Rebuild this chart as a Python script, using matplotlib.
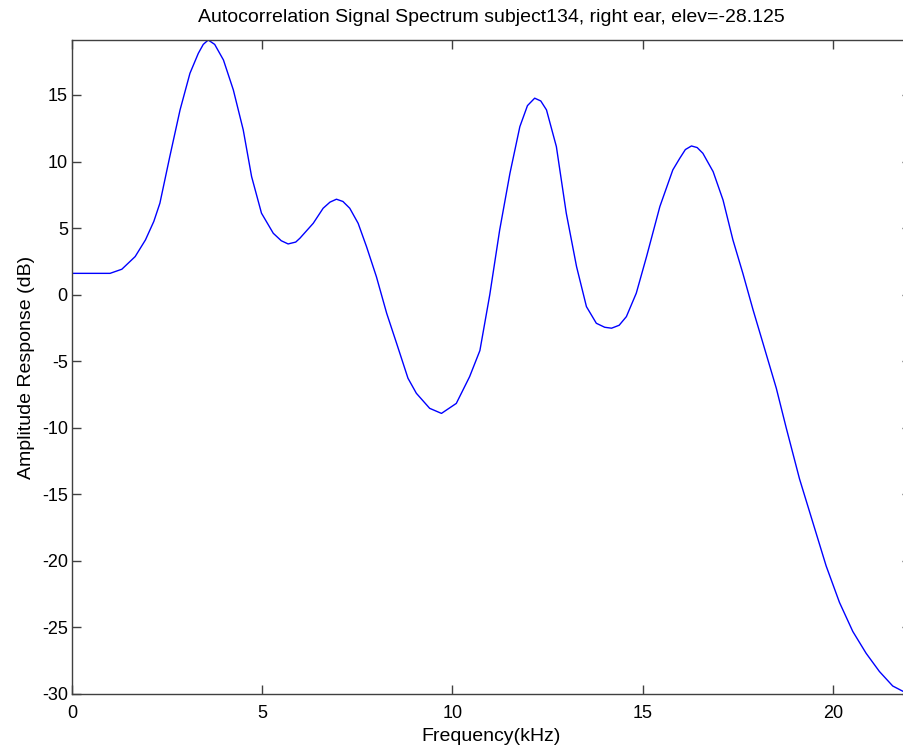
import matplotlib
matplotlib.use("Agg")
import matplotlib.pyplot as plt

plt.rcParams['font.family'] = ['Liberation Sans', 'DejaVu Sans']
plt.rcParams['axes.unicode_minus'] = False

# frequency (kHz) and amplitude (dB)
freq = [0.0, 0.5, 1.0, 1.31, 1.66, 1.93, 2.15, 2.31, 2.57, 2.84, 3.10, 3.32, 3.45, 3.58,
        3.75, 3.98, 4.24, 4.50, 4.72, 4.98, 5.29, 5.50, 5.68, 5.88, 5.99, 6.34, 6.60,
        6.78, 6.95, 7.12, 7.30, 7.52, 7.74, 8.00, 8.27, 8.53, 8.83, 9.05, 9.40, 9.71,
        10.10, 10.45, 10.72, 10.98, 11.24, 11.51, 11.77, 11.97, 12.16, 12.32, 12.47,
        12.73, 12.99, 13.26, 13.52, 13.78, 14.00, 14.18, 14.38, 14.57, 14.83, 15.10,
        15.45, 15.79, 15.97, 16.12, 16.28, 16.43, 16.58, 16.85, 17.11, 17.37, 17.63,
        17.90, 18.16, 18.51, 18.77, 19.12, 19.47, 19.82, 20.17, 20.52, 20.87, 21.22,
        21.57, 21.84, 22.05]
amp = [1.6, 1.6, 1.6, 1.91, 2.86, 4.11, 5.5, 6.87, 10.37, 13.88, 16.63, 18.13, 18.8, 19.13,
       18.8, 17.63, 15.38, 12.38, 8.87, 6.12, 4.61, 4.05, 3.81, 3.95, 4.24, 5.36, 6.49,
       6.95, 7.17, 7.0, 6.49, 5.36, 3.61, 1.35, -1.40, -3.65, -6.28, -7.41, -8.54, -8.92,
       -8.17, -6.16, -4.2, 0.0, 4.86, 9.12, 12.62, 14.2, 14.76, 14.55, 13.88,
       11.12, 6.12, 2.11, -0.9, -2.15, -2.45, -2.52, -2.3, -1.65, 0.11, 2.86,
       6.62, 9.37, 10.23, 10.9, 11.17, 11.05, 10.62, 9.24, 7.11, 4.11, 1.61,
       -1.15, -3.65, -7.03, -10.0, -13.84, -17.11, -20.38, -23.12, -25.3, -26.94, -28.31,
       -29.4, -29.8, -30.0]

fig = plt.figure(figsize=(9.04, 7.48), dpi=100)
ax = fig.add_axes([72/904, 54/748, 839/904, 654/748])

ax.plot(freq, amp, color='#0000ff', linewidth=1.0)

ax.set_xlim(0, 22.05)
ax.set_ylim(-30, 19.13)
ax.set_xticks([0, 5, 10, 15, 20])
ax.set_yticks([-30, -25, -20, -15, -10, -5, 0, 5, 10, 15])

for s in ax.spines.values():
    s.set_color('#404040')
    s.set_linewidth(1.0)
ax.spines['right'].set_visible(False)

ax.tick_params(direction='in', length=6.2, width=1.0, color='#404040',
               top=True, right=True, labelsize=13, labelcolor='black')
ax.tick_params(axis='x', pad=8)
ax.tick_params(axis='y', pad=3)

ax.set_title('Autocorrelation Signal Spectrum subject134, right ear, elev=-28.125',
             fontsize=14, pad=13)
ax.set_xlabel('Frequency(kHz)', fontsize=14, labelpad=4)
ax.set_ylabel('Amplitude Response (dB)', fontsize=14, labelpad=5)

fig.savefig('out.png', dpi=100)
